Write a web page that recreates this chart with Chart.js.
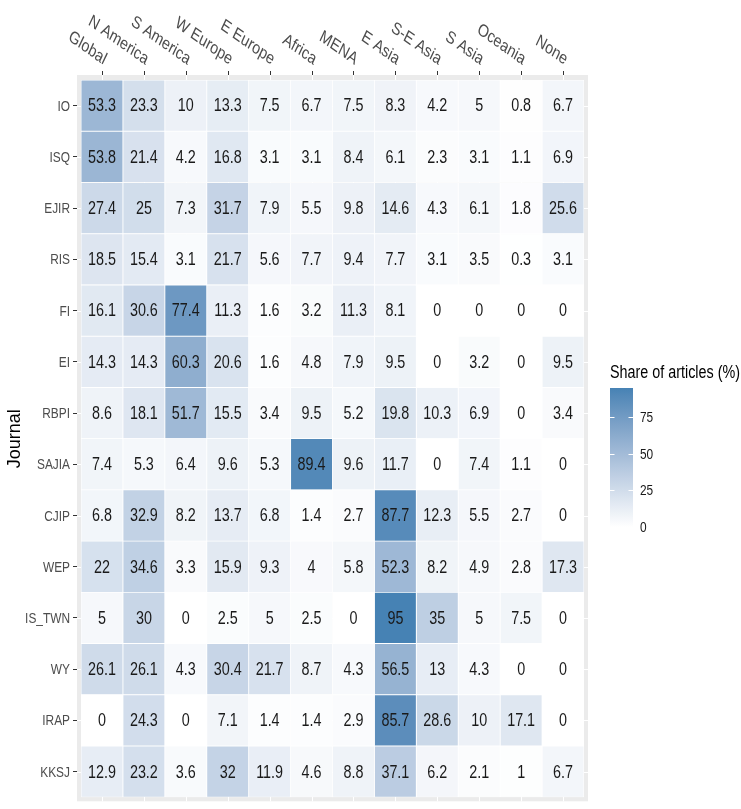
<!DOCTYPE html>
<html>
<head>
<meta charset="utf-8">
<script src="https://cdn.jsdelivr.net/npm/chart.js@4.4.0/dist/chart.umd.min.js"></script>
<style>
    body { margin: 0; background: #fff; }
</style>
</head>
<body>
<canvas id="heatmap" width="741" height="809"></canvas>
<script>
// columns and rows of the heatmap
var regions = ['Global', 'N America', 'S America', 'W Europe', 'E Europe', 'Africa', 'MENA', 'E Asia', 'S-E Asia', 'S Asia', 'Oceania', 'None'];
var journals = ['IO', 'ISQ', 'EJIR', 'RIS', 'FI', 'EI', 'RBPI', 'SAJIA', 'CJIP', 'WEP', 'IS_TWN', 'WY', 'IRAP', 'KKSJ'];

// share of articles (%) per journal, in region order
var io = [53.3, 23.3, 10, 13.3, 7.5, 6.7, 7.5, 8.3, 4.2, 5, 0.8, 6.7];
var isq = [53.8, 21.4, 4.2, 16.8, 3.1, 3.1, 8.4, 6.1, 2.3, 3.1, 1.1, 6.9];
var ejir = [27.4, 25, 7.3, 31.7, 7.9, 5.5, 9.8, 14.6, 4.3, 6.1, 1.8, 25.6];
var ris = [18.5, 15.4, 3.1, 21.7, 5.6, 7.7, 9.4, 7.7, 3.1, 3.5, 0.3, 3.1];
var fi = [16.1, 30.6, 77.4, 11.3, 1.6, 3.2, 11.3, 8.1, 0, 0, 0, 0];
var ei = [14.3, 14.3, 60.3, 20.6, 1.6, 4.8, 7.9, 9.5, 0, 3.2, 0, 9.5];
var rbpi = [8.6, 18.1, 51.7, 15.5, 3.4, 9.5, 5.2, 19.8, 10.3, 6.9, 0, 3.4];
var sajia = [7.4, 5.3, 6.4, 9.6, 5.3, 89.4, 9.6, 11.7, 0, 7.4, 1.1, 0];
var cjip = [6.8, 32.9, 8.2, 13.7, 6.8, 1.4, 2.7, 87.7, 12.3, 5.5, 2.7, 0];
var wep = [22, 34.6, 3.3, 15.9, 9.3, 4, 5.8, 52.3, 8.2, 4.9, 2.8, 17.3];
var isTwn = [5, 30, 0, 2.5, 5, 2.5, 0, 95, 35, 5, 7.5, 0];
var wy = [26.1, 26.1, 4.3, 30.4, 21.7, 8.7, 4.3, 56.5, 13, 4.3, 0, 0];
var irap = [0, 24.3, 0, 7.1, 1.4, 1.4, 2.9, 85.7, 28.6, 10, 17.1, 0];
var kksj = [12.9, 23.2, 3.6, 32, 11.9, 4.6, 8.8, 37.1, 6.2, 2.1, 1, 6.7];
var shares = [io, isq, ejir, ris, fi, ei, rbpi, sajia, cjip, wep, isTwn, wy, irap, kksj];

var legendBreaks = [0, 25, 50, 75];
var legendTitle = 'Share of articles (%)';

var FONT = "'Liberation Sans', Arial, sans-serif";
var SQUEEZE = 0.82;   // the text in the picture is condensed horizontally
var lowColor = '#ffffff';
var highColor = '#4682b4';

// gradient white -> steelblue, interpolated in Lab like ggplot
function toLab(hex) {
    var c = [1, 3, 5].map(function (k) {
        var v = parseInt(hex.substr(k, 2), 16) / 255;
        return v <= 0.04045 ? v / 12.92 : Math.pow((v + 0.055) / 1.055, 2.4);
    });
    var x = (0.4124 * c[0] + 0.3576 * c[1] + 0.1805 * c[2]) / 0.95047;
    var y = 0.2126 * c[0] + 0.7152 * c[1] + 0.0722 * c[2];
    var z = (0.0193 * c[0] + 0.1192 * c[1] + 0.9505 * c[2]) / 1.08883;
    var f = function (t) { return t > 0.008856 ? Math.cbrt(t) : 7.787 * t + 16 / 116; };
    return [116 * f(y) - 16, 500 * (f(x) - f(y)), 200 * (f(y) - f(z))];
}

function fromLab(lab) {
    var fy = (lab[0] + 16) / 116, fx = fy + lab[1] / 500, fz = fy - lab[2] / 200;
    var g = function (t) { return t * t * t > 0.008856 ? t * t * t : (t - 16 / 116) / 7.787; };
    var x = g(fx) * 0.95047, y = g(fy), z = g(fz) * 1.08883;
    var rgb = [
        3.2406 * x - 1.5372 * y - 0.4986 * z,
        -0.9689 * x + 1.8758 * y + 0.0415 * z,
        0.0557 * x - 0.2040 * y + 1.0570 * z
    ].map(function (v) {
        v = v <= 0.0031308 ? 12.92 * v : 1.055 * Math.pow(v, 1 / 2.4) - 0.055;
        return Math.max(0, Math.min(255, Math.round(v * 255)));
    });
    return 'rgb(' + rgb.join(',') + ')';
}

var labLow = toLab(lowColor), labHigh = toLab(highColor);
var maxShare = Math.max.apply(null, shares.map(function (r) { return Math.max.apply(null, r); }));

function shareColor(v) {
    var t = v / maxShare;
    return fromLab([0, 1, 2].map(function (k) { return labLow[k] + (labHigh[k] - labLow[k]) * t; }));
}

// squeezed text: x,y is the anchor point, angle in degrees before squeezing
function squeezedText(ctx, text, x, y, angle) {
    ctx.save();
    ctx.translate(x, y);
    ctx.scale(SQUEEZE, 1);
    if (angle) ctx.rotate(angle * Math.PI / 180);
    ctx.fillText(text, 0, 0);
    ctx.restore();
}

var datasets = regions.map(function (name, j) {
    return {
        label: name,
        data: journals.map(function () { return [j, j + 1]; }),
        backgroundColor: shares.map(function (row) { return shareColor(row[j]); }),
        borderColor: '#ffffff',
        borderWidth: 0.8,
        borderSkipped: false,
        grouped: false,
        barPercentage: 1,
        categoryPercentage: 1
    };
});

var heatPlugin = {
    id: 'heat',
    beforeDatasetsDraw: function (chart) {
        var ctx = chart.ctx, a = chart.chartArea;
        var xs = chart.scales.x, ys = chart.scales.y;
        ctx.save();
        ctx.fillStyle = '#ebebeb';
        ctx.fillRect(a.left - 4, a.top - 5, a.right - a.left + 8, a.bottom - a.top + 9);
        ctx.strokeStyle = '#ffffff';
        ctx.lineWidth = 1;
        regions.forEach(function (r, j) {
            var x = Math.round(xs.getPixelForValue(j + 0.5)) + 0.5;
            ctx.beginPath();
            ctx.moveTo(x, a.top - 5);
            ctx.lineTo(x, a.bottom + 4);
            ctx.stroke();
        });
        journals.forEach(function (jn, i) {
            var y = Math.round(ys.getPixelForValue(i)) + 0.5;
            ctx.beginPath();
            ctx.moveTo(a.left - 4, y);
            ctx.lineTo(a.right + 4, y);
            ctx.stroke();
        });
        ctx.restore();
    },
    afterDatasetsDraw: function (chart) {
        var ctx = chart.ctx;
        var xs = chart.scales.x, ys = chart.scales.y;
        ctx.save();
        ctx.font = '17.5px ' + FONT;
        ctx.fillStyle = '#1a1a1a';
        ctx.textAlign = 'center';
        ctx.textBaseline = 'middle';
        shares.forEach(function (row, i) {
            row.forEach(function (v, j) {
                squeezedText(ctx, String(v), xs.getPixelForValue(j + 0.5), ys.getPixelForValue(i) + 1);
            });
        });
        ctx.restore();
    },
    afterDraw: function (chart) {
        var ctx = chart.ctx, a = chart.chartArea;
        var xs = chart.scales.x, ys = chart.scales.y;
        ctx.save();

        // journal names on the left
        ctx.font = '14.5px ' + FONT;
        ctx.fillStyle = '#4d4d4d';
        ctx.textAlign = 'right';
        ctx.textBaseline = 'middle';
        journals.forEach(function (name, i) {
            squeezedText(ctx, name, a.left - 11, ys.getPixelForValue(i) + 1);
        });

        // column ticks and rotated labels on top
        ctx.strokeStyle = '#333333';
        ctx.lineWidth = 1;
        ctx.font = '17.5px ' + FONT;
        ctx.textBaseline = 'alphabetic';
        regions.forEach(function (name, j) {
            var x = Math.round(xs.getPixelForValue(j + 0.5)) + 0.5;
            ctx.beginPath();
            ctx.moveTo(x, a.top - 9);
            ctx.lineTo(x, a.top - 5);
            ctx.stroke();
            squeezedText(ctx, name, x + 1, a.top - 15, 30);
        });

        // colour bar legend
        var barX = 610, barW = 23, barTop = 388, barBottom = 527;
        var yOf = function (v) { return barBottom - v / maxShare * (barBottom - barTop); };
        ctx.font = '17.5px ' + FONT;
        ctx.fillStyle = '#000000';
        ctx.textAlign = 'left';
        squeezedText(ctx, legendTitle, barX, 378);

        var grad = ctx.createLinearGradient(0, barBottom, 0, barTop);
        for (var k = 0; k <= 20; k++) {
            grad.addColorStop(k / 20, shareColor(maxShare * k / 20));
        }
        ctx.fillStyle = grad;
        ctx.fillRect(barX, barTop, barW, barBottom - barTop);

        ctx.strokeStyle = '#ffffff';
        ctx.font = '14.5px ' + FONT;
        ctx.textBaseline = 'middle';
        legendBreaks.forEach(function (b) {
            var y = Math.round(yOf(b)) + 0.5;
            ctx.beginPath();
            ctx.moveTo(barX, y);
            ctx.lineTo(barX + 4.5, y);
            ctx.moveTo(barX + barW - 4.5, y);
            ctx.lineTo(barX + barW, y);
            ctx.stroke();
            ctx.fillStyle = '#1a1a1a';
            squeezedText(ctx, String(b), barX + barW + 7, yOf(b) + 1);
        });
        ctx.restore();
    }
};

var heatCanvas = document.getElementById('heatmap').getContext('2d');
var heatChart = new Chart(heatCanvas, {
    type: 'bar',
    data: {
        labels: journals,
        datasets: datasets
    },
    options: {
        indexAxis: 'y',
        responsive: false,
        animation: false,
        events: [],
        layout: {
            padding: { top: 80, right: 157, bottom: 3, left: 0 }
        },
        plugins: {
            legend: { display: false },
            tooltip: { enabled: false }
        },
        scales: {
            x: {
                type: 'linear',
                min: 0,
                max: regions.length,
                display: false
            },
            y: {
                type: 'category',
                offset: true,
                grid: { offset: false, drawOnChartArea: false, tickColor: '#333333', tickLength: 8, tickWidth: 1 },
                border: { display: false },
                ticks: {
                    color: 'rgba(0,0,0,0)',
                    font: { family: FONT, size: 14.5 },
                    padding: 3,
                    autoSkip: false
                },
                title: {
                    display: true,
                    text: 'Journal',
                    color: '#000000',
                    font: { family: FONT, size: 18 },
                    padding: { top: 4, bottom: 4 }
                },
                afterFit: function (scale) {
                    scale.width = 81;
                }
            }
        }
    },
    plugins: [heatPlugin]
});
</script>
</body>
</html>
